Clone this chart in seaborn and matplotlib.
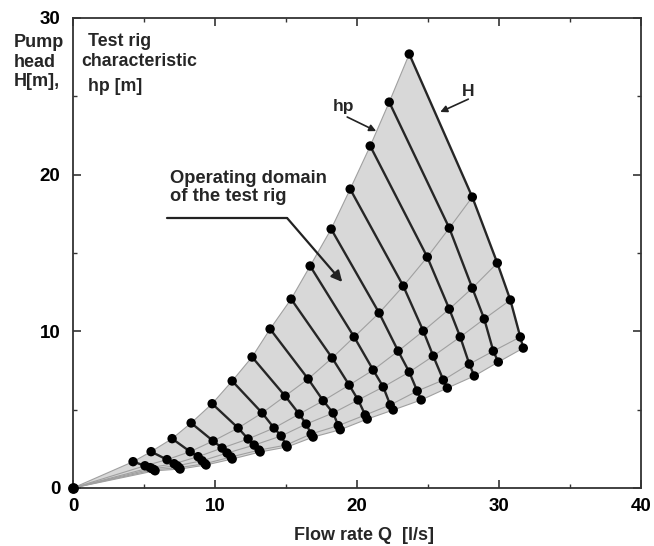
import matplotlib
matplotlib.use("Agg")
import matplotlib.pyplot as plt
from matplotlib.ticker import MultipleLocator
import numpy as np
import pandas as pd
import seaborn as sns

# ---- data: operating points, one array per test-rig characteristic (rig 1 = hp boundary),
# ---- each listing the 15 pump-speed curves from highest to lowest speed
speed_ids = list(range(1, 16))
q_r1 = [23.68, 22.27, 20.93, 19.52, 18.18, 16.70, 15.36, 13.88, 12.61, 11.21, 9.80, 8.32, 6.98, 5.50, 4.23]
h_r1 = [27.70, 24.63, 21.83, 19.08, 16.53, 14.17, 12.06, 10.15, 8.36, 6.83, 5.38, 4.15, 3.15, 2.32, 1.68]
q_r2 = [28.12, 26.50, 24.95, 23.26, 21.56, 19.80, 18.25, 16.56, 14.94, 13.32, 11.63, 9.87, 8.25, 6.62, 5.07]
h_r2 = [18.57, 16.59, 14.74, 12.89, 11.17, 9.64, 8.30, 6.96, 5.87, 4.79, 3.83, 3.00, 2.32, 1.81, 1.42]
q_r3 = [29.88, 28.12, 26.50, 24.67, 22.90, 21.14, 19.45, 17.62, 15.93, 14.16, 12.33, 10.50, 8.81, 7.12, 5.43]
h_r3 = [14.36, 12.76, 11.42, 10.02, 8.74, 7.53, 6.57, 5.57, 4.72, 3.83, 3.13, 2.55, 2.00, 1.55, 1.30]
q_r4 = [30.80, 28.96, 27.27, 25.37, 23.68, 21.85, 20.08, 18.32, 16.42, 14.66, 12.76, 10.85, 9.09, 7.33, 5.57]
h_r4 = [12.00, 10.79, 9.64, 8.42, 7.40, 6.45, 5.62, 4.79, 4.08, 3.32, 2.74, 2.23, 1.74, 1.42, 1.23]
q_r5 = [31.50, 29.60, 27.91, 26.08, 24.24, 22.34, 20.58, 18.68, 16.77, 15.01, 13.11, 11.13, 9.30, 7.47, 5.71]
h_r5 = [9.64, 8.74, 7.91, 6.89, 6.19, 5.30, 4.66, 3.98, 3.45, 2.74, 2.42, 1.98, 1.55, 1.30, 1.17]
q_r6 = [31.71, 29.95, 28.26, 26.36, 24.52, 22.55, 20.72, 18.82, 16.91, 15.08, 13.18, 11.21, 9.37, 7.54, 5.78]
h_r6 = [8.93, 8.04, 7.15, 6.38, 5.62, 4.98, 4.40, 3.72, 3.25, 2.62, 2.30, 1.85, 1.47, 1.21, 1.10]
origin_q = [0.0]
origin_h = [0.0]

x_ticks = [0, 10, 20, 30, 40]
y_ticks = [0, 10, 20, 30]

# ---- tidy table
rig_q = [q_r1, q_r2, q_r3, q_r4, q_r5, q_r6]
rig_h = [h_r1, h_r2, h_r3, h_r4, h_r5, h_r6]
rows = []
for j, (qs, hs) in enumerate(zip(rig_q, rig_h), start=1):
    for k, q, h in zip(speed_ids, qs, hs):
        rows.append({"Q": q, "H": h, "speed": k, "rig": j})
df = pd.DataFrame(rows)
df_speed = df.sort_values(["speed", "rig"])
orig = pd.DataFrame({"Q": origin_q * 6, "H": origin_h * 6, "speed": [0] * 6, "rig": list(range(1, 7))})
df_rig = pd.concat([orig, df]).sort_values(["rig", "Q"], kind="stable")

# boundary polygon of the operating domain: origin -> hp curve -> H curve -> lowest rig curve
poly_q = origin_q + q_r1[::-1] + [q[0] for q in rig_q[1:]] + q_r6[1:]
poly_h = origin_h + h_r1[::-1] + [h[0] for h in rig_h[1:]] + h_r6[1:]

sns.set_style("ticks")
plt.rcParams["font.family"] = ["Liberation Sans", "DejaVu Sans"]
plt.rcParams["font.weight"] = "bold"

fig = plt.figure(figsize=(6.54, 5.46), dpi=100)
ax = fig.add_axes([73 / 654, 1 - 488 / 546, 568 / 654, 470 / 546])

ax.fill(poly_q, poly_h, color="#d8d8d8", lw=0, zorder=1)
sns.lineplot(data=df_rig, x="Q", y="H", units="rig", estimator=None, sort=False,
             color="#a0a0a0", lw=0.8, ax=ax, legend=False, zorder=2)
sns.lineplot(data=df_speed, x="Q", y="H", units="speed", estimator=None, sort=False,
             color="#262626", lw=1.7, ax=ax, legend=False, zorder=3)
sns.scatterplot(data=df, x="Q", y="H", color="black", s=46, edgecolor="none",
                ax=ax, legend=False, zorder=4)
ax.scatter(origin_q, origin_h, color="black", s=46, zorder=5, clip_on=False)

ax.set_xlim(0, 40)
ax.set_ylim(0, 30)
ax.set_xticks(x_ticks)
ax.set_yticks(y_ticks)
ax.xaxis.set_minor_locator(MultipleLocator(5))
ax.yaxis.set_minor_locator(MultipleLocator(5))
ax.tick_params(which="both", direction="in", top=True, right=True, colors="#333333")
ax.tick_params(which="major", length=6, width=1.2, labelsize=13.5, labelcolor="black")
ax.tick_params(which="minor", length=3, width=1.0)
ax.tick_params(axis="x", pad=7)
ax.tick_params(axis="y", pad=9)
for lab in ax.get_xticklabels() + ax.get_yticklabels():
    lab.set_fontweight("bold")
for s in ax.spines.values():
    s.set_color("#333333")
    s.set_linewidth(1.3)

ax.set_xlabel("Flow rate Q  [l/s]", fontsize=13, fontweight="bold")
ax.xaxis.set_label_coords((364 - 73) / 568, (488 - 527) / 470)
ax.set_ylabel("Pump\nhead\nH[m],", fontsize=13, fontweight="bold", rotation=0,
              ha="left", va="top", linespacing=1.2)
ax.yaxis.set_label_coords((14 - 73) / 568, (488 - 34) / 470)

ax.text(1.06, 29.05, "Test rig", fontsize=12.8, fontweight="bold", va="top", ha="left")
ax.text(0.60, 27.75, "characteristic", fontsize=12.8, fontweight="bold", va="top", ha="left")
ax.text(1.06, 26.15, "hp [m]", fontsize=12.8, fontweight="bold", va="top", ha="left")

ax.text(6.84, 20.3, "Operating domain\nof the test rig", fontsize=13.2, fontweight="bold",
        va="top", ha="left", linespacing=1.05)
ax.plot([6.62, 15.08], [17.23, 17.23], color="#222222", lw=1.6, zorder=6)
ax.annotate("", xy=(18.96, 13.15), xytext=(15.08, 17.23),
            arrowprops=dict(arrowstyle="-|>", color="#222222", lw=1.6, mutation_scale=16,
                            shrinkA=0, shrinkB=0), zorder=6)

ax.text(19.03, 24.38, "hp", fontsize=12.5, fontweight="bold", va="center", ha="center")
ax.annotate("", xy=(21.35, 22.78), xytext=(19.31, 23.68),
            arrowprops=dict(arrowstyle="-|>", color="#222222", lw=1.2, mutation_scale=10,
                            shrinkA=0, shrinkB=0))
ax.text(27.84, 25.33, "H", fontsize=12.5, fontweight="bold", va="center", ha="center")
ax.annotate("", xy=(25.86, 24.0), xytext=(27.84, 24.82),
            arrowprops=dict(arrowstyle="-|>", color="#222222", lw=1.2, mutation_scale=10,
                            shrinkA=0, shrinkB=0))

fig.savefig("out.png", dpi=100)
